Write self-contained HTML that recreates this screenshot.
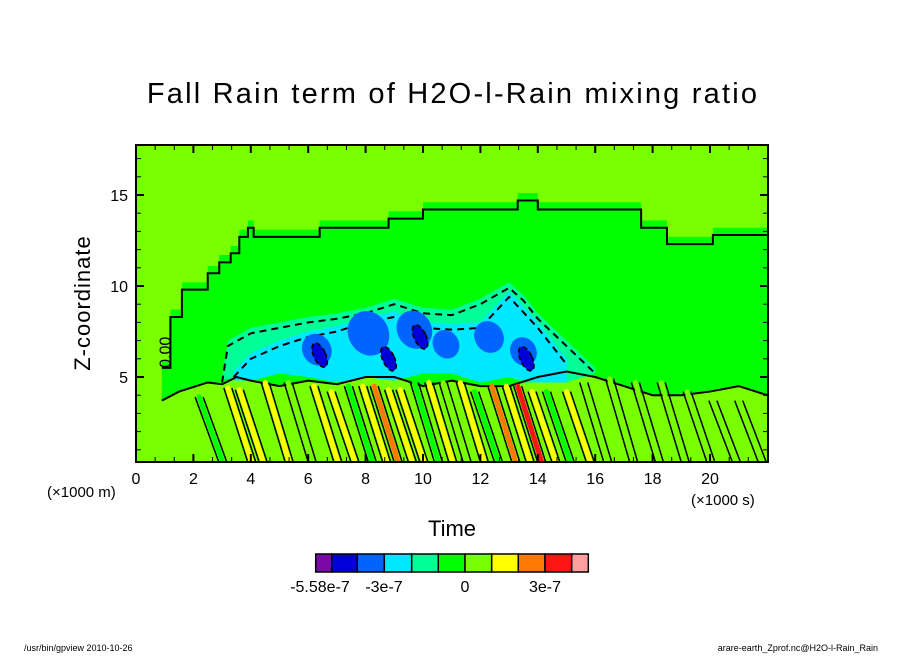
<!DOCTYPE html>
<html><head><meta charset="utf-8"><style>
body{margin:0;background:#fff;width:904px;height:654px;overflow:hidden}
svg text{font-family:"Liberation Sans",sans-serif}
</style></head><body>
<svg id="c" width="904" height="654" xmlns="http://www.w3.org/2000/svg">
<text x="453" y="103" text-anchor="middle" font-size="29" letter-spacing="2.2">Fall Rain term of H2O-l-Rain mixing ratio</text>
<defs><clipPath id="pc"><rect x="136" y="145" width="632" height="317"/></clipPath></defs>
<g id="plot" clip-path="url(#pc)"></g>
<rect x="136" y="145" width="632" height="317" fill="none" stroke="#000" stroke-width="2"/>
<g id="axes"></g>
<text x="90" y="303" text-anchor="middle" font-size="22" letter-spacing="1" transform="rotate(-90 90 303)">Z-coordinate</text>
<text x="452" y="536" text-anchor="middle" font-size="22">Time</text>
<text x="47" y="497" font-size="15">(×1000 m)</text>
<text x="691" y="505" font-size="15">(×1000 s)</text>
<g id="cbar"></g>
<text x="24" y="651" font-size="9">/usr/bin/gpview  2010-10-26</text>
<text x="878" y="651" font-size="9" text-anchor="end">arare-earth_Zprof.nc@H2O-l-Rain_Rain</text>
</svg>
<script>
const levelColors=["#7a0aa8","#0000d8","#0064ff","#00e8ff","#00ff96","#00ff00","#78ff00","#ffff00","#ff7800","#ff1414","#ffa0a0"];
const cbarLabels=["-5.58e-7","-3e-7","0","3e-7"];
const xTicks=[0,2,4,6,8,10,12,14,16,18,20];
const yTicks=[5,10,15];
const topT=[0.9,1.2,1.6,2.1,2.5,2.9,3.3,3.6,3.9,4.1,5.6,6.4,8.8,10,13,13.3,14,16,17.6,18.5,20.1,22];
const topZ=[5.5,8.3,9.8,9.8,10.7,11.3,11.8,12.7,13.2,12.7,12.7,13.2,13.7,14.2,14.2,14.7,14.2,14.2,13.2,12.3,12.8,12.8];
const botT=[0.9,1.5,2.5,3,3.5,4,5,6,7,8,9,10,11,12,13,14,15,16,17,18,19,20,21,22];
const botZ=[3.7,4.2,4.7,4.6,5,4.8,4.5,4.8,4.6,5,5,4.5,4.8,4.5,4.5,5,5.3,5,4.5,4,4,4.2,4.5,4];
const seaT=[3,3.2,4,5,6,7,8,9,10,11,12,13,13.5,14,15,16];
const seaTop=[5,7,7.7,8,8.3,8.5,8.8,9.3,8.8,8.7,9.3,10.2,9.5,8.5,7,5.5];
const cyanT=[3.4,4,5,6,7,8,9,10,11,12,13,14,15];
const cyanTop=[5.3,6.3,7,7.5,7.8,8.3,8.6,8,7.9,8,9.7,8,6];
const blueT=[6.3,8.1,9.7,10.8,12.3,13.5];
const blueZ=[6.5,7.4,7.6,6.8,7.2,6.4];
const blueR=[0.5,0.7,0.6,0.45,0.5,0.45];
const dblueT=[6.4,8.8,9.9,13.6];
const dblueZ=[6.2,6.0,7.2,6.0];
const streakT=[2.2,3.2,3.6,4.5,5.3,6.2,6.8,7.4,7.9,8.3,8.8,9.2,9.7,10.2,10.7,11.3,11.8,12.4,12.9,13.3,13.8,14.3,15.0,15.6,16.5,17.4,18.3,19.2,20.1,21];
const streakLvl=[5,7,7,7,6,7,7,5,7,8,7,7,5,7,6,7,5,8,7,9,7,5,7,6,6,6,6,6,6,6];
const X=t=>136+t*28.7, Y=z=>468-z*18.2;
const NS="http://www.w3.org/2000/svg";
function mk(tag,attrs,parent){const e=document.createElementNS(NS,tag);for(const k in attrs)e.setAttribute(k,attrs[k]);parent.appendChild(e);return e;}
const plot=document.getElementById('plot');
let r=mk('rect',{x:136,y:145,width:632,height:317,fill:levelColors[6]},plot);


function steps(ts,zs,dz){let p=[];ts.forEach((t,i)=>{if(i>0)p.push(X(t)+','+Y(zs[i-1]+dz));p.push(X(t)+','+Y(zs[i]+dz));});return p;}
let pts=steps(topT,topZ,0.4);
pts.push(X(22.5)+','+Y(topZ[topZ.length-1]+0.4));
pts.push(X(22.5)+','+Y(botZ[botZ.length-1]));
for(let i=botT.length-1;i>=0;i--)pts.push(X(botT[i])+','+Y(botZ[i]));
let g=mk('polygon',{points:pts.join(' '),fill:levelColors[5]},plot);


let sp=steps(topT,topZ,0);sp.push(X(22.5)+','+Y(topZ[topZ.length-1]));
let sl=mk('polyline',{points:sp.join(' '),fill:'none',stroke:'#000','stroke-width':2},plot);


function band(ts,tops,col,name){
 const bz=t=>{let i=Math.max(0,Math.min(botT.length-1,Math.round(t-0.9)));return botZ[Math.min(i,botZ.length-1)]+0.2;};
 let p=ts.map((t,i)=>X(t)+','+Y(tops[i]));
 for(let i=ts.length-1;i>=0;i--)p.push(X(ts[i])+','+Y(bz(ts[i])));
 let e=mk('polygon',{points:p.join(' '),fill:col},plot);
 
 
 let l=mk('polyline',{points:ts.map((t,i)=>X(t)+','+Y(tops[i]-0.3)).join(' '),fill:'none',stroke:'#000','stroke-width':2,'stroke-dasharray':'7 5'},plot);
 
 
}
band(seaT,seaTop,levelColors[4],'neg-level-1');
band(cyanT,cyanTop,levelColors[3],'neg-level-2');
blueT.forEach((t,i)=>{let e=mk('ellipse',{cx:X(t),cy:Y(blueZ[i]),rx:blueR[i]*28.7,ry:blueR[i]*18.2*1.8,fill:levelColors[2],transform:`rotate(-30 ${X(t)} ${Y(blueZ[i])})`},plot);
 
 });
dblueT.forEach((t,i)=>{let e=mk('ellipse',{cx:X(t),cy:Y(dblueZ[i]),rx:6,ry:13,fill:levelColors[1],stroke:'#000','stroke-width':1.5,'stroke-dasharray':'5 3',transform:`rotate(-25 ${X(t)} ${Y(dblueZ[i])})`},plot);
 
 });
let bl=mk('polyline',{points:botT.map((t,i)=>X(t)+','+Y(botZ[i])).join(' '),fill:'none',stroke:'#000','stroke-width':2},plot);


streakT.forEach((t,i)=>{
 const z0=Math.min(botZ[Math.min(botZ.length-1,Math.max(0,Math.round(t-0.9)))],5.2)-0.3;
 let e=mk('line',{x1:X(t),y1:Y(z0),x2:X(t+0.9),y2:Y(0),stroke:levelColors[streakLvl[i]],'stroke-width':5,'stroke-linecap':'round'},plot);
 
 
 let o=mk('polyline',{points:`${X(t)-4},${Y(z0)} ${X(t+0.9)-4},${Y(0)} `,fill:'none',stroke:'#000','stroke-width':1.5},plot);
 
 
 let o2=mk('polyline',{points:`${X(t)+4},${Y(z0)} ${X(t+0.9)+4},${Y(0)} `,fill:'none',stroke:'#000','stroke-width':1.5},plot);
 
 
});
let lb=mk('text',{x:X(1.2),y:Y(5.5),'font-size':16,transform:`rotate(-90 ${X(1.2)} ${Y(5.5)})`},plot);lb.textContent='0.00';


const ax=document.getElementById('axes');
xTicks.forEach(v=>{
 mk('line',{x1:X(v),y1:462,x2:X(v),y2:454,stroke:'#000','stroke-width':2},ax);
 mk('line',{x1:X(v),y1:145,x2:X(v),y2:153,stroke:'#000','stroke-width':2},ax);
 let t=mk('text',{x:X(v),y:484,'text-anchor':'middle','font-size':16},ax);t.textContent=v;
 
 
});
for(let v=0;v<22;v+=2/3){mk('line',{x1:X(v),y1:462,x2:X(v),y2:457,stroke:'#000'},ax);mk('line',{x1:X(v),y1:145,x2:X(v),y2:150,stroke:'#000'},ax);}
for(let v=1;v<18;v++){mk('line',{x1:136,y1:Y(v),x2:141,y2:Y(v),stroke:'#000'},ax);mk('line',{x1:768,y1:Y(v),x2:763,y2:Y(v),stroke:'#000'},ax);}
yTicks.forEach(v=>{
 mk('line',{x1:136,y1:Y(v),x2:144,y2:Y(v),stroke:'#000','stroke-width':2},ax);
 mk('line',{x1:768,y1:Y(v),x2:760,y2:Y(v),stroke:'#000','stroke-width':2},ax);
 let t=mk('text',{x:128,y:Y(v)+6,'text-anchor':'end','font-size':16},ax);t.textContent=v;
 
 
});
const cb=document.getElementById('cbar');
const edges=[315.7,331.7,357.3,384.3,411.7,438.3,465,491.7,518.3,545,571.7,588.3];
levelColors.forEach((c,i)=>{let e=mk('rect',{x:edges[i],y:554,width:edges[i+1]-edges[i],height:18,fill:c,stroke:'#000','stroke-width':1.5},cb);
 
 });
const cbx=[320,384,465,545];
cbarLabels.forEach((s,i)=>{let t=mk('text',{x:cbx[i],y:592,'text-anchor':'middle','font-size':16},cb);t.textContent=s;
 
 });
</script>
</body></html>
